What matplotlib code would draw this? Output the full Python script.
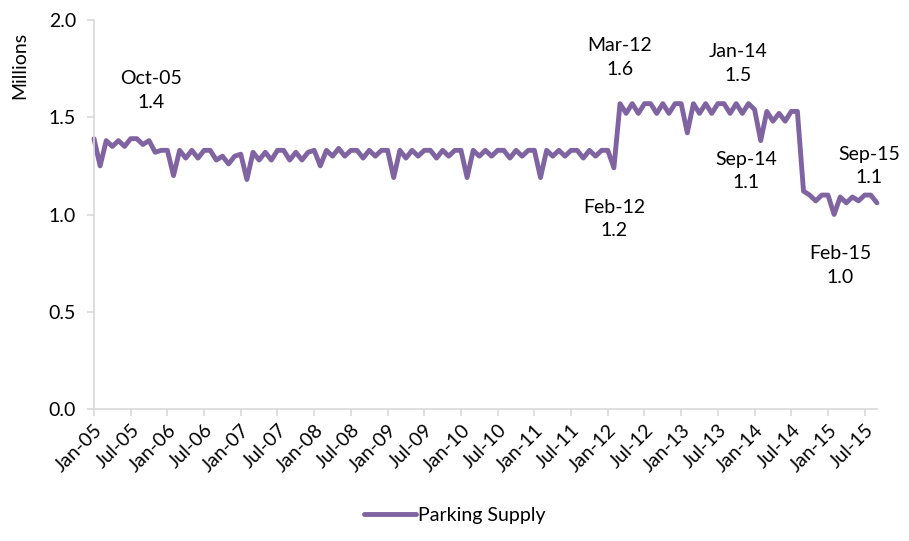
import matplotlib
matplotlib.use("Agg")
import matplotlib.pyplot as plt

plt.rcParams['font.family'] = ['Lato', 'DejaVu Sans']

# monthly parking supply, millions, Jan-05 .. Sep-15
supply_2005_2008 = [
    1.39, 1.25, 1.38, 1.35, 1.38, 1.35, 1.39, 1.39, 1.36, 1.38, 1.32, 1.33,
    1.33, 1.20, 1.33, 1.29, 1.33, 1.29, 1.33, 1.33, 1.28, 1.30, 1.26, 1.30,
    1.31, 1.18, 1.32, 1.28, 1.32, 1.28, 1.33, 1.33, 1.28, 1.32, 1.28, 1.32,
    1.33, 1.25, 1.33, 1.30, 1.34, 1.30, 1.33, 1.33, 1.29, 1.33, 1.30, 1.33,
]
supply_2009_2011 = [
    1.33, 1.19, 1.33, 1.29, 1.33, 1.30, 1.33, 1.33, 1.29, 1.33, 1.30, 1.33,
    1.33, 1.19, 1.33, 1.30, 1.33, 1.30, 1.33, 1.33, 1.29, 1.33, 1.30, 1.33,
    1.33, 1.19, 1.33, 1.30, 1.33, 1.30, 1.33, 1.33, 1.29, 1.33, 1.30, 1.33,
]
supply_2012_2015 = [
    1.33, 1.24, 1.57, 1.52, 1.57, 1.52, 1.57, 1.57, 1.52, 1.57, 1.52, 1.57,
    1.57, 1.42, 1.57, 1.52, 1.57, 1.52, 1.57, 1.57, 1.52, 1.57, 1.52, 1.57,
    1.54, 1.38, 1.53, 1.48, 1.52, 1.48, 1.53, 1.53, 1.12, 1.10, 1.07, 1.10,
    1.10, 1.00, 1.09, 1.06, 1.09, 1.07, 1.10, 1.10, 1.06,
]
supply = supply_2005_2008 + supply_2009_2011 + supply_2012_2015

months = ['Jan', 'Feb', 'Mar', 'Apr', 'May', 'Jun',
          'Jul', 'Aug', 'Sep', 'Oct', 'Nov', 'Dec']
dates = [f"{months[i % 12]}-{5 + i // 12:02d}" for i in range(len(supply))]

# labelled points and where their labels sit (pixel offsets)
label_dates = ['Oct-05', 'Mar-12', 'Jan-14', 'Feb-12', 'Sep-14', 'Feb-15', 'Sep-15']
label_offsets = [(2, 50), (0, 46), (-16, 46), (0, -51), (-57, 20), (6, -51), (-8, 37)]

color = '#8064A2'
grey = '#D9D9D9'
fs = 14

fig = plt.figure(figsize=(9.09, 5.41), dpi=100)
ax = fig.add_axes([0.1034, 0.244, 0.8613, 0.719])

x = list(range(len(supply)))
ax.plot(x, supply, color=color, lw=3.5, solid_joinstyle='round',
        solid_capstyle='round', label='Parking Supply', clip_on=False)

ax.set_xlim(0, len(supply) - 1)
ax.set_ylim(0, 2.0)
ax.set_yticks([0, 0.5, 1.0, 1.5, 2.0])
ax.set_yticklabels([f"{v:.1f}" for v in [0, 0.5, 1.0, 1.5, 2.0]])
ax.set_xticks(x[::6])
ax.set_xticklabels(dates[::6], rotation=45, ha='right', rotation_mode='anchor')

for s in ['top', 'right']:
    ax.spines[s].set_visible(False)
for s in ['left', 'bottom']:
    ax.spines[s].set_color(grey)
    ax.spines[s].set_linewidth(1.2)
ax.tick_params(axis='both', colors=grey, length=5, width=1.2, labelsize=fs,
               labelcolor='black')
ax.tick_params(axis='x', pad=4)
ax.tick_params(axis='y', pad=8)

for d, off in zip(label_dates, label_offsets):
    i = dates.index(d)
    ax.annotate(f"{d}\n{supply[i]:.1f}", (i, supply[i]), xytext=off,
                textcoords='offset pixels', ha='center', va='center',
                fontsize=fs, linespacing=1.45, annotation_clip=False)

fig.text(20 / 909, 1 - 65 / 541, 'Millions', rotation=90, ha='center',
         va='center', fontsize=fs)

fig.legend(loc='lower center', bbox_to_anchor=(0.5, 0.0), frameon=False,
           fontsize=fs, handlelength=2.7, handletextpad=0.1)

fig.savefig('out.png', dpi=100)
